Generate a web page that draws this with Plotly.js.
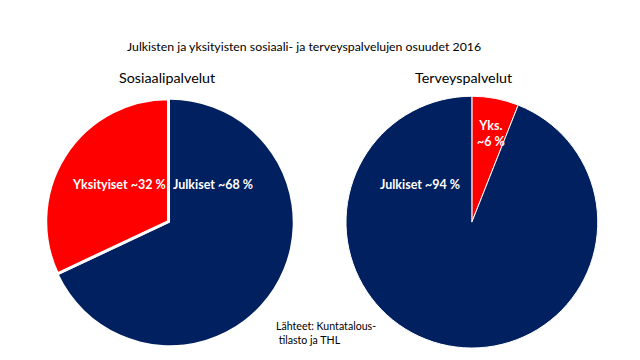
<!DOCTYPE html>
<html><head><meta charset="utf-8">
<script src="https://cdn.plot.ly/plotly-3.0.1.min.js"></script>
<style>body{margin:0;background:#fff}#c{width:640px;height:360px}</style>
</head><body><div id="c"></div>
<script>
const chartTitle = "Julkisten ja yksityisten sosiaali- ja terveyspalvelujen osuudet 2016";
const pieTitles = ["Sosiaalipalvelut", "Terveyspalvelut"];
const sosLabels = ["Yksityiset", "Julkiset"];
const sosValues = [32, 68];
const terLabels = ["Yks.", "Julkiset"];
const terValues = [6, 94];
const sourceText = "Lähteet: Kuntatalous-<br> tilasto ja THL";
const colors = ["#FF0000", "#002060"];
const FONT = "Lato, 'Open Sans', sans-serif";

const data = [
  {type: "pie", labels: sosLabels.slice().reverse(), values: sosValues.slice().reverse(), sort: false,
   direction: "clockwise", rotation: 0,
   marker: {colors: colors.slice().reverse(), line: {color: "#fff", width: [0, 3]}}, pull: [0, 0.015],
   textinfo: "none", hoverinfo: "label+percent", showlegend: false,
   domain: {x: [0.0703, 0.461], y: [0.036, 0.728]}},
  {type: "pie", labels: terLabels, values: terValues, sort: false, direction: "clockwise", rotation: 0,
   marker: {colors: colors, line: {color: "#fff", width: 1}},
   textinfo: "none", hoverinfo: "label+percent", showlegend: false,
   domain: {x: [0.5406, 0.934], y: [0.033, 0.733]}}
];

const lab = (txt, x, y) => ({text: "<b>" + txt + "</b>", x: x, y: y, xref: "paper", yref: "paper",
  showarrow: false, font: {family: FONT, size: 12.5, color: "#fff"}, xanchor: "center", yanchor: "middle"});

const layout = {
  width: 640, height: 360, margin: {l: 0, r: 0, t: 0, b: 0},
  paper_bgcolor: "#fff", plot_bgcolor: "#fff",
  font: {family: FONT, color: "#000"},
  annotations: [
    {text: chartTitle, x: 304/640, y: 1 - 47/360, xref: "paper", yref: "paper", showarrow: false,
     font: {family: FONT, size: 12.3, color: "#000"}, xanchor: "center", yanchor: "middle"},
    {text: pieTitles[0], x: 167/640, y: 1 - 77/360, xref: "paper", yref: "paper", showarrow: false,
     font: {family: FONT, size: 14.3, color: "#000"}, xanchor: "center", yanchor: "middle"},
    {text: pieTitles[1], x: 463/640, y: 1 - 77/360, xref: "paper", yref: "paper", showarrow: false,
     font: {family: FONT, size: 14.3, color: "#000"}, xanchor: "center", yanchor: "middle"},
    lab(sosLabels[0] + " ~" + sosValues[0] + " %", 119/640, 1 - 184/360),
    lab(sosLabels[1] + " ~" + sosValues[1] + " %", 213/640, 1 - 184/360),
    lab(terLabels[1] + " ~" + terValues[1] + " %", 420/640, 1 - 184/360),
    lab(terLabels[0] + "<br>~" + terValues[0] + " %", 491/640, 1 - 133/360),
    {text: sourceText, x: 274/640, y: 1 - 333/360, xref: "paper", yref: "paper", showarrow: false,
     align: "left", font: {family: FONT, size: 10.6, color: "#000"}, xanchor: "left", yanchor: "middle"}
  ]
};
Plotly.newPlot("c", data, layout, {displayModeBar: false, staticPlot: true});
</script></body></html>
